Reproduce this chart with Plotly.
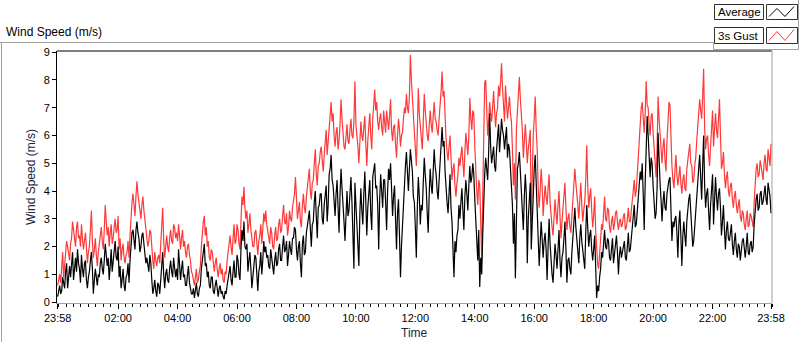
import plotly.graph_objects as go

# ---- data (one value every 2 minutes, 23:58 -> 23:58) ----
step_minutes = 2

gust = [
    # 00h
    0.6, 0.9, 1.0, 0.7, 1.3, 1.8, 0.9, 1.4, 1.6, 2.2, 2.0, 1.7, 1.5, 2.1, 2.3, 2.9, 2.6, 2.2, 2.0, 2.7, 2.9, 2.3, 2.4, 2.0, 2.8, 2.3, 1.9, 2.2, 2.5, 2.0,
    # 01h
    1.4, 1.8, 2.0, 2.6, 3.3, 2.2, 1.6, 1.9, 2.3, 1.7, 1.3, 1.8, 2.1, 2.5, 2.7, 2.2, 1.9, 2.6, 3.5, 2.9, 2.4, 2.7, 2.0, 2.5, 2.8, 2.1, 2.3, 2.7, 3.0, 2.5,
    # 02h
    2.6, 3.1, 1.9, 2.3, 1.5, 1.9, 2.1, 1.6, 1.4, 1.7, 1.8, 2.2, 1.6, 2.4, 3.3, 3.6, 3.9, 3.4, 3.1, 3.8, 4.35, 3.9, 3.6, 3.2, 3.0, 3.5, 3.8, 3.3, 2.9, 2.5,
    # 03h
    2.4, 2.0, 2.2, 2.6, 2.5, 1.9, 1.5, 1.2, 1.8, 1.5, 1.3, 1.6, 1.7, 1.4, 2.0, 2.5, 3.4, 2.2, 1.6, 2.0, 2.4, 2.0, 1.8, 2.3, 2.6, 2.2, 2.1, 2.8, 2.7, 2.3,
    # 04h
    2.5, 2.2, 2.8, 2.4, 1.9, 2.3, 2.6, 2.0, 2.2, 1.8, 1.6, 2.0, 2.1, 1.7, 1.5, 1.1, 1.0, 0.8, 0.6, 0.9, 1.2, 0.7, 0.8, 1.1, 1.3, 2.0, 2.5, 2.9, 3.1, 2.4,
    # 05h
    2.7, 2.0, 2.2, 1.6, 1.5, 1.9, 1.8, 1.3, 1.1, 1.4, 1.6, 1.2, 0.9, 1.2, 1.4, 1.0, 1.2, 0.8, 0.7, 1.1, 1.0, 1.5, 1.9, 2.2, 2.4, 2.0, 1.7, 2.3, 2.8, 2.1,
    # 06h
    2.2, 2.8, 2.6, 2.1, 1.9, 2.9, 3.8, 3.5, 4.15, 3.4, 3.0, 3.3, 2.5, 2.8, 3.2, 2.6, 2.3, 2.0, 2.0, 2.5, 2.6, 2.1, 1.7, 2.2, 2.4, 2.8, 2.1, 2.6, 3.2, 2.9,
    # 07h
    3.3, 2.8, 2.6, 2.3, 2.1, 2.7, 2.5, 2.0, 1.9, 2.4, 2.7, 2.2, 2.3, 2.8, 3.0, 2.5, 2.6, 3.1, 3.5, 2.9, 2.8, 3.2, 2.4, 2.7, 3.3, 3.0, 2.9, 3.4, 3.6, 3.9,
    # 08h
    4.5, 3.4, 3.0, 3.3, 3.6, 2.9, 2.7, 3.5, 3.9, 3.4, 3.2, 3.8, 4.1, 4.4, 4.8, 4.0, 3.7, 4.3, 4.4, 5.0, 5.5, 4.6, 4.2, 4.9, 5.0, 5.4, 5.6, 5.1, 4.7, 5.3,
    # 09h
    5.9, 6.2, 5.3, 5.7, 6.2, 6.6, 7.2, 6.5, 6.8, 6.0, 5.6, 6.1, 6.3, 5.5, 5.8, 6.4, 7.3, 6.6, 6.0, 5.6, 5.5, 6.0, 6.4, 5.8, 5.7, 6.2, 6.6, 6.0, 5.9, 6.5,
    # 10h
    7.95, 6.4, 6.1, 5.6, 5.0, 5.9, 6.5, 6.0, 5.8, 6.3, 6.7, 5.7, 4.9, 5.8, 6.3, 6.8, 6.0, 5.5, 6.6, 7.0, 7.65, 6.9, 7.2, 6.5, 6.2, 6.6, 6.8, 6.3, 6.0, 6.9,
    # 11h
    6.5, 6.1, 6.9, 6.4, 6.2, 6.7, 7.3, 6.2, 5.8, 6.3, 6.4, 5.7, 5.2, 6.0, 6.6, 6.2, 5.6, 6.0, 6.1, 6.6, 7.0, 6.8, 7.5, 7.0, 6.8, 7.4, 8.9, 8.0, 7.3, 6.6,
    # 12h
    6.0, 5.4, 4.9, 6.1, 7.7, 6.8, 6.2, 5.9, 5.5, 6.6, 7.5, 6.9, 6.4, 6.0, 5.8, 6.5, 6.9, 6.4, 6.1, 6.7, 7.2, 6.6, 6.5, 6.2, 6.0, 6.6, 7.0, 7.6, 8.3, 7.4,
    # 13h
    7.6, 6.5, 5.9, 5.4, 5.1, 5.6, 6.0, 5.2, 4.4, 4.8, 5.0, 4.2, 3.8, 4.3, 4.6, 5.2, 4.9, 5.3, 5.6, 5.0, 4.5, 5.4, 6.1, 5.7, 5.3, 6.0, 7.35, 6.6, 6.2, 6.9,
    # 14h
    6.8, 5.6, 4.6, 4.0, 3.5, 4.4, 4.2, 3.2, 1.5, 3.8, 5.6, 7.9, 8.0, 6.7, 6.0, 6.5, 7.2, 6.8, 6.5, 7.0, 7.6, 6.9, 6.3, 6.8, 7.0, 7.8, 7.4, 7.9, 8.6, 7.7,
    # 15h
    7.1, 6.5, 7.8, 7.2, 6.6, 7.0, 7.4, 6.8, 6.5, 5.5, 4.2, 5.0, 3.7, 6.2, 7.0, 7.5, 8.1, 7.3, 6.9, 6.2, 5.2, 5.9, 6.4, 5.8, 5.0, 5.5, 5.8, 6.2, 2.9, 4.8,
    # 16h
    6.0, 6.6, 7.4, 6.2, 5.5, 4.1, 3.4, 4.0, 4.8, 4.2, 3.1, 3.7, 4.2, 3.8, 3.5, 4.1, 4.6, 3.6, 3.0, 2.7, 2.4, 3.3, 3.7, 3.2, 2.8, 3.5, 4.0, 3.1, 2.3, 2.9,
    # 17h
    3.5, 3.9, 4.3, 3.4, 2.6, 3.0, 3.2, 2.7, 2.5, 3.1, 3.6, 4.2, 4.8, 4.3, 4.0, 3.5, 3.0, 3.7, 4.3, 3.5, 2.9, 3.3, 3.6, 4.4, 5.65, 4.2, 3.4, 3.8, 4.1, 3.3,
    # 18h
    2.7, 3.1, 3.8, 2.6, 1.8, 1.4, 1.2, 1.9, 2.2, 2.8, 2.6, 3.2, 3.8, 3.0, 2.9, 3.4, 3.3, 2.7, 2.5, 2.9, 3.1, 2.6, 2.8, 3.2, 3.3, 2.9, 2.6, 2.9, 3.0, 2.7,
    # 19h
    2.8, 3.1, 3.2, 2.6, 2.7, 3.0, 3.4, 2.9, 2.9, 3.3, 3.7, 4.2, 4.4, 3.8, 4.0, 4.6, 5.2, 5.9, 6.4, 7.0, 7.2, 6.5, 6.1, 6.8, 7.95, 7.1, 7.0, 6.4, 6.0, 6.7,
    # 20h
    6.8, 6.1, 5.4, 4.7, 4.5, 5.5, 7.4, 6.6, 6.0, 5.4, 5.0, 5.6, 5.9, 5.1, 4.7, 5.8, 6.6, 7.2, 7.1, 5.6, 4.9, 4.4, 4.1, 4.7, 5.3, 4.6, 4.2, 4.5, 4.9, 4.3,
    # 21h
    3.9, 4.4, 4.6, 4.1, 4.0, 4.8, 5.1, 5.5, 5.7, 5.0, 4.9, 4.3, 4.4, 4.9, 5.2, 5.8, 6.3, 6.8, 7.3, 6.9, 6.6, 7.4, 8.4, 6.3, 5.5, 5.9, 6.0, 5.3, 4.9, 5.6,
    # 22h
    6.3, 6.9, 5.6, 6.1, 6.8, 6.2, 5.9, 6.6, 7.3, 6.0, 4.8, 5.0, 5.4, 4.6, 4.1, 4.5, 4.7, 4.0, 3.8, 4.2, 4.3, 3.7, 3.4, 3.8, 4.0, 3.5, 3.2, 3.5, 3.7, 3.1,
    # 23h
    2.9, 3.3, 3.2, 2.8, 2.6, 3.0, 3.3, 2.7, 2.8, 3.2, 3.1, 2.9, 2.7, 3.6, 4.4, 4.8, 5.0, 4.5, 4.6, 5.1, 4.9, 4.5, 4.4, 5.0, 5.3, 4.8, 4.7, 5.5, 5.2, 4.9,
    5.7,
]

average = [
    # 00h
    0.2, 0.5, 0.6, 0.3, 0.4, 0.9, 0.7, 0.5, 1.1, 1.4, 0.5, 1.0, 1.3, 0.9, 1.5, 1.8, 0.8, 1.3, 1.6, 1.1, 1.9, 1.4, 1.2, 0.7, 1.7, 1.2, 0.9, 1.4, 1.5, 0.8,
    # 01h
    0.5, 0.9, 1.1, 1.5, 1.8, 1.2, 0.3, 0.8, 1.2, 0.9, 0.6, 1.0, 0.9, 1.4, 1.6, 1.2, 1.0, 1.5, 2.1, 1.7, 1.3, 1.6, 0.8, 1.3, 1.9, 1.1, 1.4, 1.8, 2.2, 1.6,
    # 02h
    1.5, 2.0, 0.9, 1.3, 0.5, 0.8, 1.2, 0.6, 0.4, 0.9, 1.0, 1.4, 0.7, 1.5, 2.2, 2.5, 2.6, 2.2, 1.9, 2.6, 2.9, 2.5, 2.3, 1.8, 2.0, 2.4, 2.5, 2.1, 1.8, 1.4,
    # 03h
    1.6, 1.2, 1.1, 1.7, 1.4, 0.8, 0.3, 0.5, 0.8, 0.4, 0.2, 0.7, 0.6, 0.3, 0.9, 1.3, 1.8, 1.0, 0.5, 1.0, 1.2, 0.8, 0.7, 1.2, 1.5, 1.1, 0.9, 1.6, 1.3, 0.9,
    # 04h
    1.2, 0.8, 1.9, 1.4, 0.8, 1.2, 1.5, 0.9, 1.0, 0.6, 0.6, 1.0, 1.3, 0.7, 0.5, 0.3, 0.3, 0.5, 0.15, 0.4, 0.7, 0.3, 0.2, 0.5, 0.6, 1.2, 1.6, 1.9, 2.1, 1.3,
    # 05h
    1.4, 0.9, 1.1, 0.6, 0.5, 0.9, 0.9, 0.4, 0.3, 0.6, 0.8, 0.5, 0.2, 0.5, 0.6, 0.3, 0.4, 0.2, 0.1, 0.4, 0.3, 0.6, 0.9, 1.2, 1.3, 0.8, 0.6, 1.1, 1.5, 0.9,
    # 06h
    0.9, 1.7, 1.5, 1.0, 0.8, 1.9, 2.6, 2.2, 2.9, 2.0, 1.9, 2.1, 1.1, 1.5, 1.8, 1.2, 0.5, 0.9, 1.2, 1.7, 1.6, 1.0, 0.4, 1.1, 1.3, 1.8, 1.0, 1.5, 2.2, 1.8,
    # 07h
    2.0, 1.6, 1.7, 1.3, 1.2, 1.9, 1.6, 1.1, 1.0, 1.5, 1.8, 1.3, 1.4, 1.9, 2.1, 1.5, 1.5, 2.0, 2.4, 1.8, 1.9, 2.2, 1.3, 1.7, 2.2, 1.9, 1.7, 2.3, 2.3, 2.7,
    # 08h
    2.6, 1.9, 1.5, 2.0, 2.2, 1.4, 0.9, 2.1, 2.4, 1.7, 1.8, 2.5, 2.7, 3.0, 3.3, 2.4, 2.0, 2.8, 2.9, 3.6, 4.0, 3.1, 2.3, 3.4, 3.5, 3.9, 3.9, 3.0, 2.8, 3.5,
    # 09h
    3.8, 4.2, 2.9, 3.5, 4.6, 4.8, 5.3, 4.4, 4.2, 3.6, 3.1, 3.9, 4.4, 3.4, 2.5, 3.9, 4.8, 4.1, 3.6, 2.9, 2.2, 3.5, 4.0, 3.1, 3.3, 3.9, 4.5, 3.6, 2.7, 1.2,
    # 10h
    4.3, 3.5, 3.0, 2.4, 1.3, 3.2, 4.1, 3.3, 2.8, 3.9, 4.7, 3.6, 2.4, 3.4, 3.9, 4.4, 3.2, 2.6, 4.5, 4.8, 5.0, 4.1, 4.2, 3.5, 1.9, 3.7, 4.6, 4.0, 3.4, 4.4,
    # 11h
    4.4, 3.6, 2.6, 4.0, 4.8, 4.4, 5.0, 4.1, 3.1, 3.8, 4.2, 3.0, 1.9, 3.2, 3.7, 2.4, 0.9, 2.0, 2.8, 3.9, 4.6, 4.9, 5.4, 4.6, 4.0, 4.8, 5.5, 5.1, 4.7, 3.8,
    # 12h
    3.6, 2.7, 1.6, 3.4, 4.5, 3.8, 2.8, 3.5, 3.3, 4.3, 5.2, 4.6, 4.1, 3.2, 2.5, 3.9, 4.8, 4.2, 3.9, 4.7, 5.5, 4.9, 4.6, 4.0, 3.7, 4.4, 5.0, 5.7, 6.3, 5.6,
    # 13h
    5.8, 4.7, 4.0, 3.6, 3.2, 3.9, 4.6, 3.4, 2.9, 1.9, 0.9, 2.2, 1.8, 2.4, 2.6, 3.5, 3.0, 3.6, 4.1, 3.3, 2.6, 3.8, 4.4, 3.9, 3.3, 4.2, 4.9, 4.3, 4.5, 5.0,
    # 14h
    4.6, 3.7, 2.8, 2.2, 1.5, 2.6, 0.55, 1.6, 1.0, 2.4, 3.9, 4.6, 5.2, 4.8, 4.4, 5.4, 6.8, 5.6, 5.0, 5.3, 5.6, 4.9, 4.7, 5.5, 6.1, 6.4, 5.4, 5.9, 6.6, 6.2,
    # 15h
    6.0, 5.5, 5.8, 6.3, 5.2, 5.7, 5.5, 4.8, 4.4, 3.5, 2.1, 3.2, 0.86, 3.7, 4.8, 5.0, 5.4, 4.7, 4.1, 3.4, 2.6, 3.8, 4.6, 3.9, 1.4, 3.0, 3.9, 4.3, 1.9, 2.8,
    # 16h
    4.2, 4.8, 5.3, 4.4, 3.4, 2.2, 1.3, 2.1, 2.9, 2.3, 1.6, 2.2, 2.5, 1.9, 0.8, 2.0, 3.0, 2.1, 1.4, 1.0, 0.7, 1.6, 2.1, 1.7, 1.2, 1.9, 2.6, 1.5, 0.9, 1.6,
    # 17h
    1.8, 2.3, 2.9, 1.9, 0.7, 1.5, 1.6, 1.2, 1.0, 1.8, 2.3, 2.8, 3.4, 2.7, 2.2, 1.9, 1.4, 2.3, 2.8, 2.2, 1.9, 1.6, 1.2, 2.5, 3.5, 2.7, 2.0, 2.4, 2.6, 1.9,
    # 18h
    1.5, 1.9, 2.4, 1.3, 0.15, 0.6, 0.4, 0.9, 1.2, 1.8, 1.6, 2.1, 2.6, 2.0, 1.9, 2.3, 2.2, 1.6, 1.5, 1.9, 2.3, 1.4, 1.7, 2.1, 2.4, 1.8, 1.0, 1.7, 2.0, 1.6,
    # 19h
    1.8, 2.1, 2.2, 1.6, 1.5, 2.0, 2.5, 1.8, 1.9, 2.3, 2.6, 3.1, 3.5, 2.7, 2.8, 3.2, 3.6, 4.2, 4.7, 4.4, 5.0, 3.9, 2.6, 4.3, 5.8, 6.7, 6.0, 4.9, 4.5, 5.2,
    # 20h
    5.0, 4.2, 3.6, 3.0, 3.2, 4.1, 6.1, 4.8, 4.3, 3.7, 2.9, 3.6, 4.0, 3.4, 3.3, 3.9, 4.2, 4.4, 4.5, 3.2, 2.2, 2.9, 2.7, 3.0, 3.1, 2.5, 1.6, 2.8, 3.3, 2.4,
    # 21h
    1.3, 2.4, 2.9, 2.4, 2.0, 2.9, 3.4, 3.7, 3.9, 3.1, 2.6, 2.0, 2.2, 2.8, 3.1, 3.8, 4.2, 4.8, 5.3, 4.5, 3.7, 4.9, 6.0, 4.2, 3.4, 3.9, 4.1, 3.3, 2.6, 3.5,
    # 22h
    4.2, 4.6, 2.8, 3.6, 4.5, 3.8, 3.3, 3.9, 4.1, 3.4, 2.4, 2.9, 3.5, 2.6, 1.9, 2.6, 2.9, 2.3, 2.2, 2.5, 2.8, 2.1, 1.7, 2.2, 2.5, 1.9, 1.6, 2.1, 2.0, 1.5,
    # 23h
    1.9, 2.2, 2.3, 1.9, 1.6, 2.0, 2.5, 1.8, 1.7, 2.1, 2.2, 1.8, 2.0, 2.8, 3.3, 3.7, 3.9, 3.3, 3.4, 3.9, 4.0, 3.5, 3.6, 4.0, 4.2, 3.7, 3.5, 4.3, 4.1, 3.8,
    3.2,
]

time_minutes = [i * step_minutes for i in range(len(gust))]

tick_minutes = [0, 122, 242, 362, 482, 602, 722, 842, 962, 1082, 1202, 1322, 1440]
tick_labels = ["23:58", "02:00", "04:00", "06:00", "08:00", "10:00", "12:00",
               "14:00", "16:00", "18:00", "20:00", "22:00", "23:58"]
y_ticks = [0, 1, 2, 3, 4, 5, 6, 7, 8, 9]

series_names = ["Average", "3s Gust"]

# ---- layout geometry (pixels) ----
W, H = 800, 342
ML, MR, MT, MB = 57, 28, 51, 39
PW, PH = W - ML - MR, H - MT - MB
FONT = "Liberation Sans"
GRAY = "#a0a0a0"
RED = "#ff3838"


def px(x):
    return (x - ML) / PW


def py(y):
    return 1 - (y - MT) / PH


fig = go.Figure()
fig.add_trace(go.Scatter(x=time_minutes, y=gust, mode="lines", name=series_names[1],
                         line=dict(color=RED, width=1.2), showlegend=False))
fig.add_trace(go.Scatter(x=time_minutes, y=average, mode="lines", name=series_names[0],
                         line=dict(color="black", width=1.2), showlegend=False))

shapes = []
# plot frame: top black, right gray
shapes.append(dict(type="line", xref="paper", yref="paper", x0=0, x1=1, y0=1, y1=1,
                   line=dict(color="black", width=1)))
shapes.append(dict(type="line", xref="paper", yref="paper", x0=1, x1=1, y0=0, y1=1,
                   line=dict(color=GRAY, width=1)))
# outer chart frame
shapes.append(dict(type="line", xref="paper", yref="paper", x0=px(0), x1=px(713.5),
                   y0=py(42.5), y1=py(42.5), line=dict(color=GRAY, width=1)))
shapes.append(dict(type="line", xref="paper", yref="paper", x0=px(1.5), x1=px(1.5),
                   y0=py(42.5), y1=py(342), line=dict(color=GRAY, width=1)))
# legend frame
shapes.append(dict(type="path", xref="paper", yref="paper",
                   path=f"M {px(713.5)},{py(42.5)} L {px(713.5)},{py(49.5)} L {px(798.5)},{py(49.5)} L {px(798.5)},{py(0)}",
                   line=dict(color=GRAY, width=1)))

legend_rows = [(4.5, 19.5, "black"), (27.5, 43.5, RED)]
annotations = []
for (top, bot, col), name in zip(legend_rows, series_names):
    shapes.append(dict(type="rect", xref="paper", yref="paper",
                       x0=px(714.5), x1=px(763.5), y0=py(bot), y1=py(top),
                       line=dict(color="#303030", width=1), fillcolor="white"))
    shapes.append(dict(type="rect", xref="paper", yref="paper",
                       x0=px(766.5), x1=px(797.5), y0=py(bot), y1=py(top),
                       line=dict(color="#303030", width=1), fillcolor="white"))
    pts = [(769, bot - 3), (777, top + 4), (785, bot - 3), (794, top + 2)]
    path = "M " + " L ".join(f"{px(a)},{py(b)}" for a, b in pts)
    shapes.append(dict(type="path", xref="paper", yref="paper", path=path,
                       line=dict(color=col, width=1)))
    annotations.append(dict(text=name, xref="paper", yref="paper", x=px(716), y=py((top + bot) / 2),
                            xanchor="left", yanchor="middle", showarrow=False,
                            font=dict(family=FONT, size=11.5, color="black")))

annotations.append(dict(text="Wind Speed (m/s)", xref="paper", yref="paper", x=px(4), y=py(32),
                        xanchor="left", yanchor="middle", showarrow=False,
                        font=dict(family=FONT, size=12, color="black")))
annotations.append(dict(text="Wind Speed (m/s)", xref="paper", yref="paper", x=px(31), y=py(177),
                        xanchor="center", yanchor="middle", showarrow=False, textangle=-90,
                        font=dict(family=FONT, size=12, color="#1a2540")))
annotations.append(dict(text="Time", xref="paper", yref="paper", x=px(414), y=py(333),
                        xanchor="center", yanchor="middle", showarrow=False,
                        font=dict(family=FONT, size=12, color="#1a2540")))

fig.update_layout(
    width=W, height=H, autosize=False,
    margin=dict(l=ML, r=MR, t=MT, b=MB, pad=0),
    paper_bgcolor="white", plot_bgcolor="white",
    font=dict(family=FONT, size=11, color="black"),
    shapes=shapes, annotations=annotations,
    xaxis=dict(range=[-1.4, 1442.0], tickmode="array", tickvals=tick_minutes, ticktext=tick_labels,
               showgrid=False, zeroline=False, showline=True, linecolor=GRAY, linewidth=1,
               ticks="outside", ticklen=5, tickcolor="black", tickwidth=1,
               tickfont=dict(family=FONT, size=11, color="black"),
               minor=dict(tickmode="linear", tick0=2, dtick=15, ticks="outside", ticklen=3,
                          tickcolor="black", tickwidth=1, showgrid=False),
               fixedrange=True),
    yaxis=dict(range=[-0.03, 9.04], tickmode="array", tickvals=y_ticks,
               showgrid=False, zeroline=False, showline=True, linecolor="black", linewidth=1,
               ticks="outside", ticklen=4, tickcolor="black", tickwidth=1,
               tickfont=dict(family=FONT, size=11, color="black"),
               fixedrange=True),
    showlegend=False,
)

fig.write_html("out.html", config={"displayModeBar": False},
               post_script="document.body.style.margin='0px';document.body.style.overflow='hidden';")
